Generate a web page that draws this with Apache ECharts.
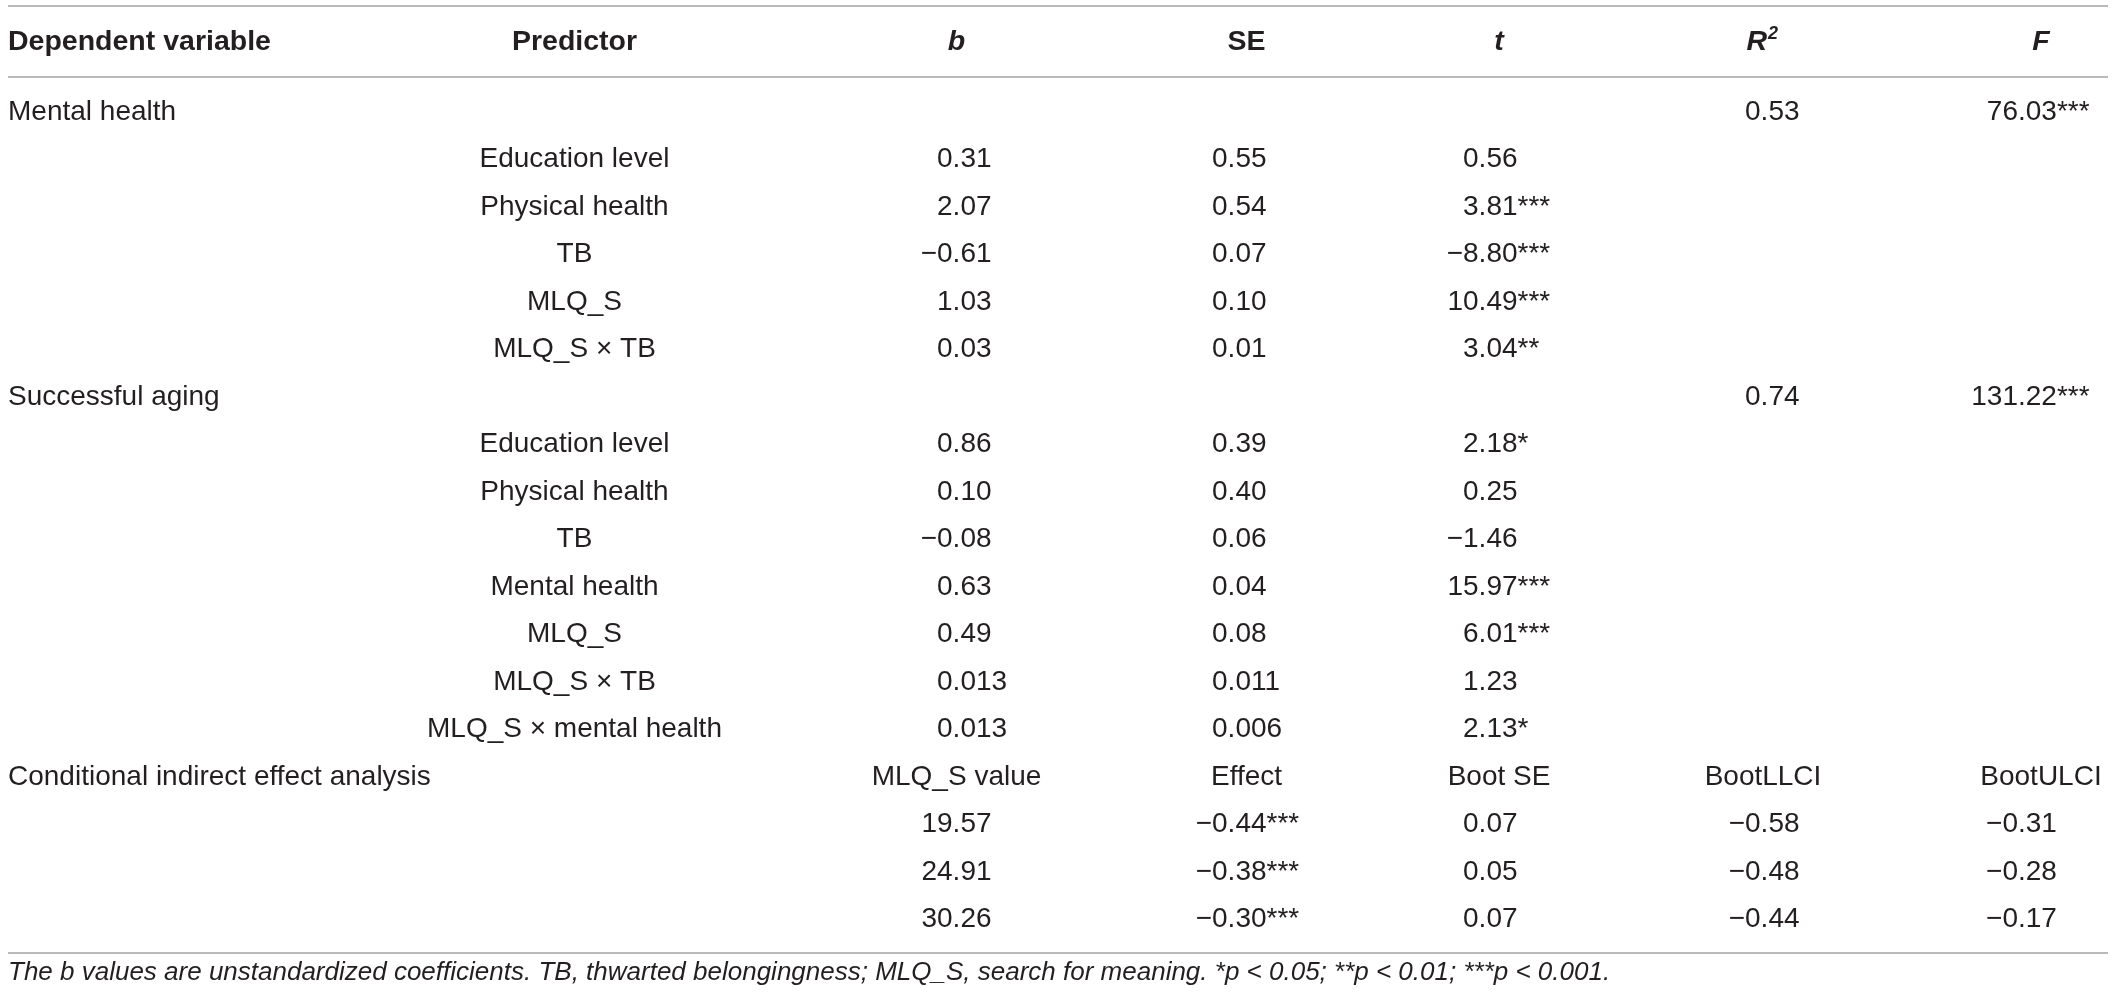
<!DOCTYPE html>
<html>
<head>
<meta charset="utf-8">
<script src="https://cdn.jsdelivr.net/npm/echarts@6/dist/echarts.min.js"></script>
<style>
html,body{margin:0;padding:0;background:#ffffff;}
#chart{width:2120px;height:1001px;}
</style>
</head>
<body>
<div id="chart"></div>
<script>
// ---------------- DATA ----------------
const headers    = ['Dependent variable', 'Predictor', 'b', 'SE', 't', 'R', 'F'];
const headerSup  = ['', '', '', '', '', '2', ''];
const dependent  = ['Mental health', '', '', '', '', '', 'Successful aging', '', '', '', '', '', '', '', 'Conditional indirect effect analysis', '', '', ''];
const predictors = ['', 'Education level', 'Physical health', 'TB', 'MLQ_S', 'MLQ_S × TB', '', 'Education level', 'Physical health', 'TB', 'Mental health', 'MLQ_S', 'MLQ_S × TB', 'MLQ_S × mental health', '', '', '', ''];
const bValues    = ['', '0.31', '2.07', '−0.61', '1.03', '0.03', '', '0.86', '0.10', '−0.08', '0.63', '0.49', '0.013', '0.013', 'MLQ_S value', '19.57', '24.91', '30.26'];
const seValues   = ['', '0.55', '0.54', '0.07', '0.10', '0.01', '', '0.39', '0.40', '0.06', '0.04', '0.08', '0.011', '0.006', 'Effect', '−0.44***', '−0.38***', '−0.30***'];
const tValues    = ['', '0.56', '3.81***', '−8.80***', '10.49***', '3.04**', '', '2.18*', '0.25', '−1.46', '15.97***', '6.01***', '1.23', '2.13*', 'Boot SE', '0.07', '0.05', '0.07'];
const r2Values   = ['0.53', '', '', '', '', '', '0.74', '', '', '', '', '', '', '', 'BootLLCI', '−0.58', '−0.48', '−0.44'];
const fValues    = ['76.03***', '', '', '', '', '', '131.22***', '', '', '', '', '', '', '', 'BootULCI', '−0.31', '−0.28', '−0.17'];
const footnote   = 'The b values are unstandardized coefficients. TB, thwarted belongingness; MLQ_S, search for meaning. *p < 0.05; **p < 0.01; ***p < 0.001.';

// ---------------- LAYOUT ----------------
const W = 2120, H = 1001;
const ROW0 = 112, ROW_H = 47.5;                  // pixel centre of first body row, row pitch
const toRow = px => (px - ROW0) / ROW_H;         // layout helper (pixel -> row units)
const HEADER_ROW = toRow(42);
const FOOT_ROW = toRow(973);
const RULE_ROWS = [toRow(6), toRow(77), toRow(953)];
const RULE_X = [8, 2108];
const COL_X = [8, 574.5, 956.5, 1246.5, 1499, 1763, 2041];   // text anchors
const DEC_X = [null, null, 952.6, 1227.6, 1478.6, 1760.6, 2018]; // decimal-point anchors
const FONT = "'Liberation Sans', Arial, Helvetica, sans-serif";
const INK = '#231f20';
const BODY_SIZE = 28, HEAD_SIZE = 28.5, FOOT_SIZE = 26;
const italicHeader = [false, false, true, false, true, true, true];

const columns = [dependent, predictors, bValues, seValues, tValues, r2Values, fValues];
const numRe = /^[−-]?\d+\.\d+\**$/;

const cells = [];
headers.forEach((h, c) => cells.push({ c, row: HEADER_ROW, text: h, sup: headerSup[c], kind: 'header' }));
columns.forEach((col, c) => col.forEach((t, r) => {
  if (t) cells.push({ c, row: r, text: t, kind: (c >= 2 && numRe.test(t)) ? 'num' : 'text' });
}));
cells.push({ c: 0, row: FOOT_ROW, text: footnote, kind: 'foot' });

function anchorX(cell) { return cell.kind === 'num' ? DEC_X[cell.c] : COL_X[cell.c]; }

function txt(x, y, text, align, opts) {
  opts = opts || {};
  return {
    type: 'text', x: x, y: y, silent: true,
    style: {
      text: text, fill: INK, align: align, verticalAlign: 'middle',
      fontFamily: FONT, fontSize: opts.size || BODY_SIZE,
      fontWeight: opts.weight || 'normal', fontStyle: opts.style || 'normal'
    }
  };
}

function renderCell(params, api) {
  const cell = cells[params.dataIndex];
  const p = api.coord([api.value(0), api.value(1)]);
  const children = [];
  if (cell.kind === 'header') {
    const st = italicHeader[cell.c] ? 'italic' : 'normal';
    if (cell.sup) {
      children.push(txt(p[0] + 4, p[1], cell.text, 'right', { size: HEAD_SIZE, weight: 'bold', style: st }));
      children.push(txt(p[0] + 5, p[1] - 7.5, cell.sup, 'left', { size: 18, weight: 'bold', style: st }));
    } else {
      children.push(txt(p[0], p[1], cell.text, cell.c === 0 ? 'left' : 'center', { size: HEAD_SIZE, weight: 'bold', style: st }));
    }
  } else if (cell.kind === 'num') {
    const i = cell.text.indexOf('.');
    children.push(txt(p[0], p[1], cell.text.slice(0, i), 'right'));
    children.push(txt(p[0], p[1], cell.text.slice(i), 'left'));
  } else if (cell.kind === 'foot') {
    children.push(txt(p[0], p[1], cell.text, 'left', { size: FOOT_SIZE, style: 'italic' }));
  } else {
    children.push(txt(p[0], p[1], cell.text, cell.c === 0 ? 'left' : 'center'));
  }
  return { type: 'group', children: children };
}

function renderRule(params, api) {
  const a = api.coord([RULE_X[0], api.value(0)]);
  const b = api.coord([RULE_X[1], api.value(0)]);
  return {
    type: 'line', silent: true,
    shape: { x1: a[0], y1: a[1], x2: b[0], y2: b[1] },
    style: { stroke: '#a3a3a3', lineWidth: 1.6 }
  };
}

const chart = echarts.init(document.getElementById('chart'), null, { renderer: 'canvas' });
chart.setOption({
  animation: false,
  backgroundColor: '#ffffff',
  grid: { left: 0, right: 0, top: 0, bottom: 0 },
  xAxis: { type: 'value', min: 0, max: W, show: false },
  yAxis: { type: 'value', inverse: true, min: toRow(0), max: toRow(H), show: false },
  series: [
    {
      type: 'custom', clip: false, coordinateSystem: 'cartesian2d',
      renderItem: renderRule,
      encode: { x: -1, y: 0 },
      data: RULE_ROWS.map(r => [r])
    },
    {
      type: 'custom', clip: false, coordinateSystem: 'cartesian2d',
      renderItem: renderCell,
      encode: { x: 0, y: 1 },
      data: cells.map(cell => [anchorX(cell), cell.row])
    }
  ]
});
</script>
</body>
</html>
